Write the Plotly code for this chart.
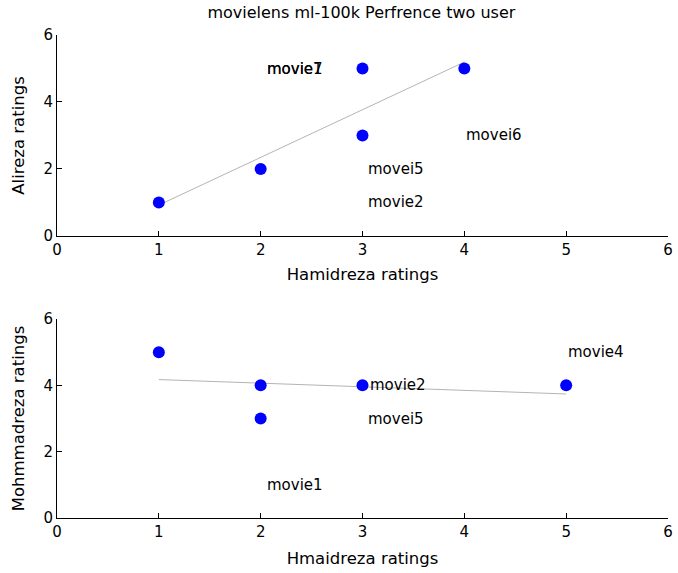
import numpy as np
import plotly.graph_objects as go

# Top panel: Hamidreza vs Alireza
top_x = [1, 2, 3, 3, 4]
top_y = [1, 2, 5, 3, 5]
top_labels = ["movie7", "movie1", "movei5", "movie2", "movei6"]
top_lab_x = [2.04, 2.04, 3.03, 3.03, 4.0]
top_lab_y = [5, 5, 2, 1, 3]

# Bottom panel: Hmaidreza vs Mohmmadreza
bot_x = [1, 2, 2, 3, 5]
bot_y = [5, 4, 3, 4, 4]
bot_labels = ["movie4", "movie2", "movei5", "movie1"]
bot_lab_x = [5.0, 3.05, 3.03, 2.04]
bot_lab_y = [5, 4, 3, 1]

ticks = [0, 1, 2, 3, 4, 5, 6]
yticks = [0, 2, 4, 6]

FONT = "DejaVu Sans, Liberation Sans, Arial, sans-serif"

def fit(xs, ys):
    p = np.polyfit(xs, ys, 1)
    xx = np.array([min(xs), max(xs)], dtype=float)
    return xx, np.polyval(p, xx)

fig = go.Figure()
for xs, ys, xa, ya in [(top_x, top_y, "x", "y"), (bot_x, bot_y, "x2", "y2")]:
    fx, fy = fit(xs, ys)
    fig.add_trace(go.Scatter(x=fx, y=fy, mode="lines", line=dict(color="#b4b4b4", width=1),
                             xaxis=xa, yaxis=ya, showlegend=False, hoverinfo="skip"))
    fig.add_trace(go.Scatter(x=xs, y=ys, mode="markers", marker=dict(color="#0000ff", size=12),
                             xaxis=xa, yaxis=ya, showlegend=False, cliponaxis=False))

ann = []
for t, x, y in zip(top_labels, top_lab_x, top_lab_y):
    ann.append(dict(text=t, x=x, y=y, xref="x", yref="y", xanchor="left", yanchor="middle",
                    showarrow=False, font=dict(family=FONT, size=15, color="black")))
for t, x, y in zip(bot_labels, bot_lab_x, bot_lab_y):
    ann.append(dict(text=t, x=x, y=y, xref="x2", yref="y2", xanchor="left", yanchor="middle",
                    showarrow=False, font=dict(family=FONT, size=15, color="black")))

axis_common = dict(range=[0, 6], showline=True, linecolor="black", linewidth=1,
                   ticks="inside", ticklen=5, tickcolor="black", showgrid=False, zeroline=False,
                   tickfont=dict(family=FONT, size=15, color="black"), mirror=False)
title_font = dict(family=FONT, size=16.5, color="black")

fig.update_layout(
    width=678, height=573,
    margin=dict(l=57, r=5, t=35, b=55),
    plot_bgcolor="white", paper_bgcolor="white",
    font=dict(family=FONT, size=14, color="black"),
    title=dict(text="movielens ml-100k Perfrence two user", x=0.533, xanchor="center",
               y=1 - 12 / 573, yanchor="middle", yref="container",
               font=dict(family=FONT, size=16, color="black")),
    xaxis=dict(domain=[0, 1], anchor="y", tickvals=ticks,
               title=dict(text="Hamidreza ratings", standoff=10, font=title_font), **axis_common),
    yaxis=dict(domain=[0.5839, 1], anchor="x", tickvals=yticks,
               title=dict(text="Alireza ratings", standoff=14, font=title_font), **axis_common),
    xaxis2=dict(domain=[0, 1], anchor="y2", tickvals=ticks,
                title=dict(text="Hmaidreza ratings", standoff=12, font=title_font), **axis_common),
    yaxis2=dict(domain=[0, 0.412], anchor="x2", tickvals=yticks,
                title=dict(text="Mohmmadreza ratings", standoff=14, font=title_font), **axis_common),
    annotations=ann,
)

fig.write_html("out.html")
